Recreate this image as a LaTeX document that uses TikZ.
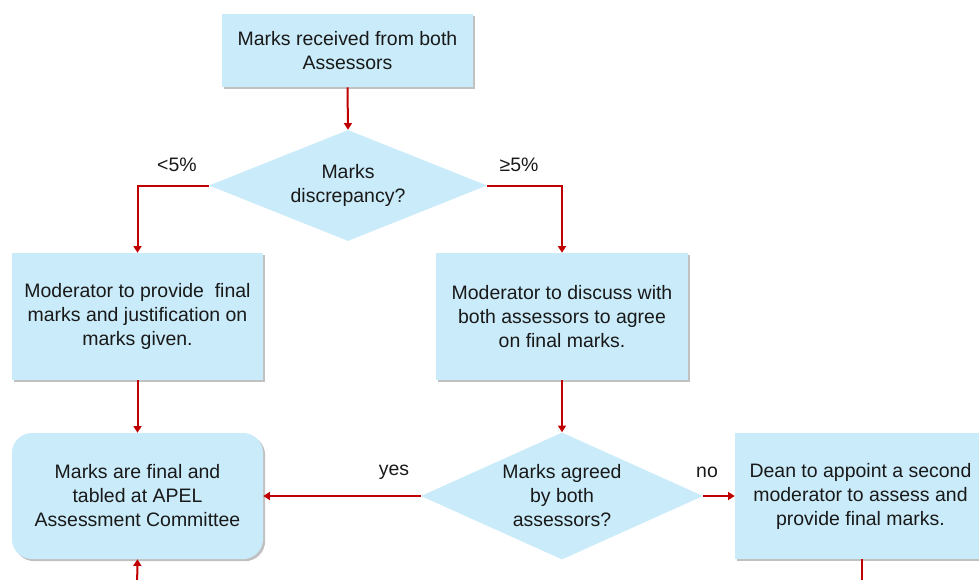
\documentclass[tikz,border=0pt]{standalone}
\usepackage{fontspec}
\setmainfont{Liberation Sans}
\usetikzlibrary{shapes.geometric,arrows.meta,shadows}
\definecolor{boxfill}{HTML}{CAEBF9}
\definecolor{arrowred}{HTML}{C00000}
\tikzset{
  every node/.style={font=\fontsize{14.6}{18}\selectfont, text=black!90},
  myshadow/.style={drop shadow={shadow xshift=1.6pt, shadow yshift=-1.6pt, opacity=0.35, fill=black!70}},
  procbox/.style={rectangle, fill=boxfill, myshadow, align=center, inner sep=0pt},
  finalbox/.style={rectangle, rounded corners=15pt, fill=boxfill, myshadow, align=center, inner sep=0pt,
     minimum width=188.25pt, minimum height=94.5pt},
  decision/.style={diamond, fill=boxfill, inner sep=0pt},
  dtext/.style={align=center, inner sep=0pt},
  flow/.style={draw=arrowred, line width=1.5pt, -{Triangle[width=6pt,length=5pt]}},
  plainflow/.style={draw=arrowred, line width=1.5pt},
  lbl/.style={font=\fontsize{14.6}{16}\selectfont}
}
\begin{document}
\begin{tikzpicture}[x=0.75pt,y=-0.75pt]
\useasboundingbox (0,0) rectangle (979,579);
\clip (0,0) rectangle (979,579);
\node[procbox, minimum width=188.25pt, minimum height=54.75pt] (start) at (347.5,50.5) {Marks received from both\\Assessors};
\node[decision, minimum width=208.5pt, minimum height=83.25pt] (d1) at (348,185.5) {};
\node[dtext] (d1t) at (d1.center) {Marks\\discrepancy?};
\node[procbox, minimum width=188.25pt, minimum height=95.25pt] (left) at (137.5,316.5) {Moderator to provide~ final\\marks and justification on\\marks given.};
\node[procbox, minimum width=189pt, minimum height=95.25pt] (right) at (562,316.5) {Moderator to discuss with\\both assessors to agree\\on final marks.};
\node[finalbox] (final) at (137.5,496) {Marks are final and\\tabled at APEL\\Assessment Committee};
\node[decision, minimum width=211.5pt, minimum height=95.25pt] (d2) at (562,496) {};
\node[dtext] (d2t) at (d2.center) {Marks agreed\\by both\\assessors?};
\node[procbox, minimum width=188.25pt, minimum height=94.5pt] (dean) at (860.5,496) {Dean to appoint a second\\moderator to assess and\\provide final marks.};
\coordinate (deanout) at (862,590);
\coordinate (finalin) at (137,590);
\draw[flow] (start.south) -- (d1.north);
\draw[flow] (d1.west) -| (left.north);
\draw[flow] (d1.east) -| (right.north);
\node[lbl] (lt) at (177,165) {<5\%};
\node[lbl] (ge) at (519,165) {≥5\%};
\draw[flow] (left.south) -- (final.north);
\draw[flow] (right.south) -- (d2.north);
\draw[flow] (d2.west) -- (final.east);
\draw[flow] (d2.east) -- (dean.west);
\node[lbl] (yes) at (394,472) {yes};
\node[lbl] (no) at (707,472) {no};
\draw[plainflow] (dean.south -| deanout) -- (deanout);
\draw[flow] (finalin) -- (final.south);
\end{tikzpicture}
\end{document}
